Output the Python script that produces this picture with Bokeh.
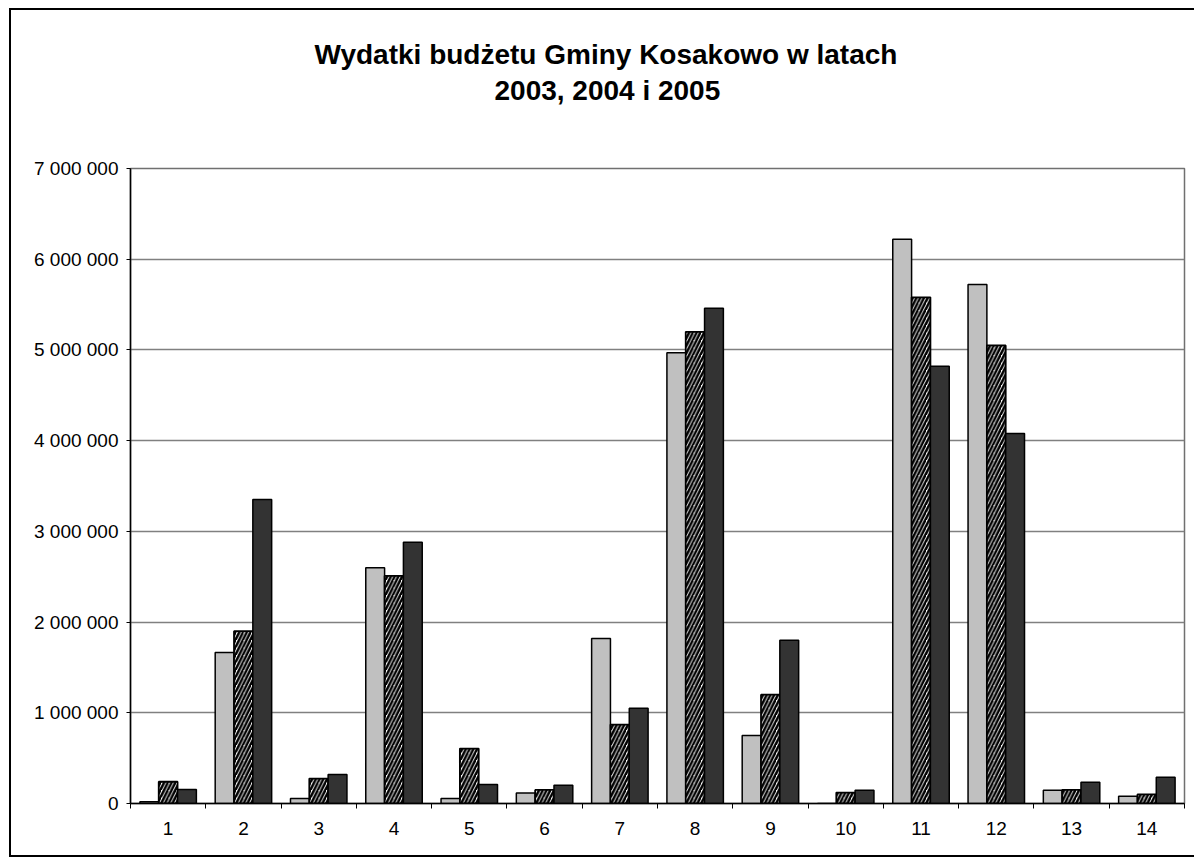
from bokeh.plotting import figure
from bokeh.models import FixedTicker, Title, Range1d, ColumnDataSource
from bokeh.embed import file_html
from bokeh.resources import INLINE

categories = [str(i) for i in range(1, 15)]
y2003 = [20000, 1665000, 55000, 2600000, 55000, 115000, 1820000, 4970000,
         750000, 0, 6220000, 5720000, 145000, 80000]
y2004 = [240000, 1900000, 275000, 2510000, 605000, 150000, 870000, 5200000,
         1200000, 120000, 5580000, 5050000, 150000, 100000]
y2005 = [155000, 3350000, 320000, 2880000, 210000, 200000, 1050000, 5460000,
         1800000, 145000, 4820000, 4080000, 235000, 290000]
y_ticks = [0, 1000000, 2000000, 3000000, 4000000, 5000000, 6000000, 7000000]
y_tick_labels = ["0", "1 000 000", "2 000 000", "3 000 000", "4 000 000",
                 "5 000 000", "6 000 000", "7 000 000"]
title_line1 = "Wydatki budżetu Gminy Kosakowo w latach"
title_line2 = "2003, 2004 i 2005"

FONT = "Liberation Sans"
n = len(categories)
centers = [i + 1 for i in range(n)]
bounds = [i + 0.5 for i in range(n + 1)]
bw = 0.25

p = figure(width=1185, height=849, output_backend="svg", toolbar_location=None,
           title_location=None,
           x_range=Range1d(0.5, n + 0.5), y_range=Range1d(0, 7000000),
           min_border_left=119, min_border_right=12, min_border_top=158,
           min_border_bottom=56)
p.styles = {"margin-left": "9px", "margin-top": "8px",
            "border-left": "2px solid black", "border-top": "2px solid black",
            "border-bottom": "2px solid black"}

src = ColumnDataSource(dict(
    x1=[c - bw for c in centers], x2=centers, x3=[c + bw for c in centers],
    a=y2003, b=y2004, c=y2005))

p.vbar(x="x1", top="a", width=bw, source=src, fill_color="#C0C0C0",
       line_color="black", line_width=1.5)
p.vbar(x="x2", top="b", width=bw, source=src, fill_color="white",
       hatch_pattern="right_diagonal_line", hatch_color="black",
       hatch_scale=7.5, hatch_weight=2.5,
       line_color="black", line_width=1.8)
p.vbar(x="x3", top="c", width=bw, source=src, fill_color="#333333",
       line_color="black", line_width=1.5)

# titles (spacer first, closest to the frame); centred over the whole chart area
p.add_layout(Title(text=" ", text_font_size="1px", standoff=59), "above")
p.add_layout(Title(text=title_line2, align="left", offset=364, text_font=FONT,
                   text_font_size="28px", text_font_style="bold",
                   text_color="black", standoff=2), "above")
p.add_layout(Title(text=title_line1, align="left", offset=184, text_font=FONT,
                   text_font_size="28px", text_font_style="bold",
                   text_color="black", standoff=4), "above")

# x axis
xa = p.xaxis[0]
xa.ticker = FixedTicker(ticks=centers, minor_ticks=bounds)
xa.major_label_overrides = {c: lab for c, lab in zip(centers, categories)}
xa.major_tick_out = 0
xa.major_tick_in = 0
xa.minor_tick_out = 5
xa.minor_tick_in = 0
xa.minor_tick_line_color = "black"
xa.axis_line_color = "black"
xa.axis_line_width = 1.5
xa.major_label_standoff = 13
xa.major_label_text_font = FONT
xa.major_label_text_font_size = "19px"
xa.major_label_text_color = "black"

# y axis
ya = p.yaxis[0]
ya.ticker = FixedTicker(ticks=y_ticks)
ya.major_label_overrides = {t: lab for t, lab in zip(y_ticks, y_tick_labels)}
ya.major_tick_out = 4
ya.major_tick_in = 0
ya.minor_tick_out = 0
ya.minor_tick_in = 0
ya.major_tick_line_color = "black"
ya.axis_line_color = "black"
ya.axis_line_width = 1.5
ya.major_label_standoff = 8
ya.major_label_text_font = FONT
ya.major_label_text_font_size = "19px"
ya.major_label_text_color = "black"

p.xgrid.visible = False
p.ygrid.ticker = FixedTicker(ticks=y_ticks)
p.ygrid.grid_line_color = "#808080"
p.ygrid.grid_line_width = 1.3

p.outline_line_color = "#707070"
p.outline_line_width = 1.5
p.background_fill_color = "white"
p.border_fill_color = "white"

open("out.html", "w").write(file_html(p, INLINE))
